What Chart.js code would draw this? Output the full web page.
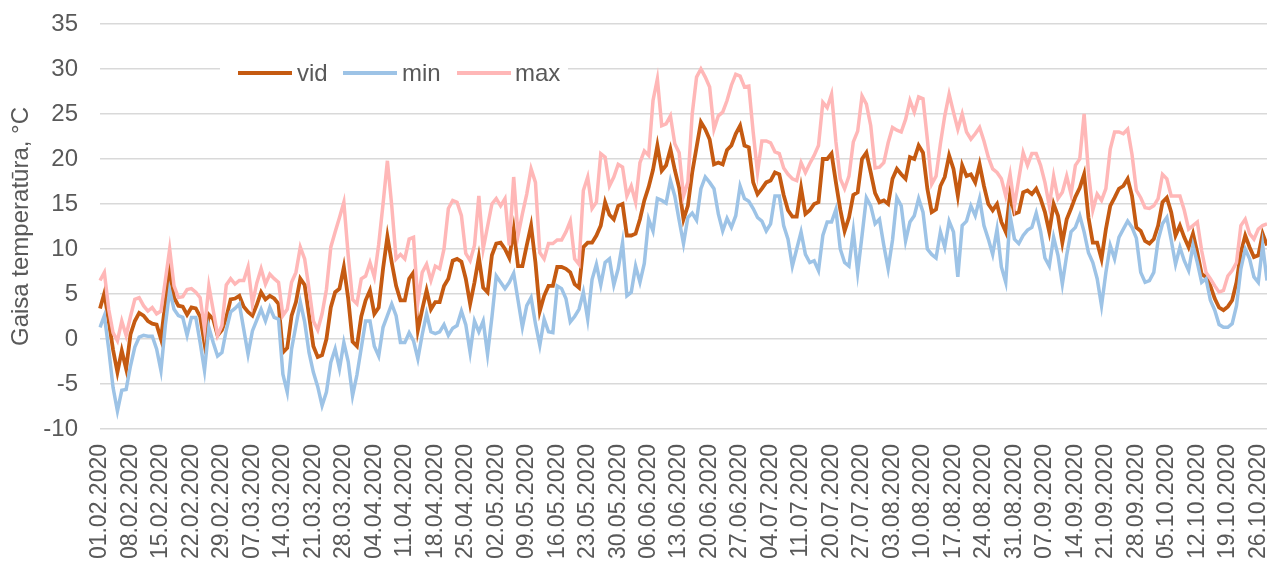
<!DOCTYPE html>
<html>
<head>
<meta charset="utf-8">
<script src="https://cdn.jsdelivr.net/npm/chart.js@4.4.1/dist/chart.umd.min.js"></script>
<style>
  html, body { margin: 0; padding: 0; background: #ffffff; }
  #chart-wrap { width: 1267px; height: 565px; position: relative; }
</style>
</head>
<body>
<div id="chart-wrap"><canvas id="temp-chart"></canvas></div>
<script>
// daily series, 01.02.2020 .. 28.10.2020 (18.07 and 19.07 are absent)
const startDate = '2020-02-01';
const missingDates = ['18.07.2020', '19.07.2020'];

const tickLabels = [
  '01.02.2020', '08.02.2020', '15.02.2020', '22.02.2020', '29.02.2020', '07.03.2020',
  '14.03.2020', '21.03.2020', '28.03.2020', '04.04.2020', '11.04.2020', '18.04.2020',
  '25.04.2020', '02.05.2020', '09.05.2020', '16.05.2020', '23.05.2020', '30.05.2020',
  '06.06.2020', '13.06.2020', '20.06.2020', '27.06.2020', '04.07.2020', '11.07.2020',
  '20.07.2020', '27.07.2020', '03.08.2020', '10.08.2020', '17.08.2020', '24.08.2020',
  '31.08.2020', '07.09.2020', '14.09.2020', '21.09.2020', '28.09.2020', '05.10.2020',
  '12.10.2020', '19.10.2020', '26.10.2020'
];

const vid = [
  3.4, 5.1, 2.0, -1.2, -3.7, -1.3, -3.3, 0.5, 2.0, 2.9,
  2.6, 2.0, 1.7, 1.6, 0.0, 4.0, 7.6, 4.6, 3.7, 3.6,
  2.7, 3.5, 3.4, 2.5, -0.5, 2.7, 2.2, 0.4, 1.0, 2.4,
  4.4, 4.5, 4.8, 3.6, 3.0, 2.6, 3.8, 5.2, 4.4, 4.8,
  4.5, 3.9, -1.5, -1.0, 2.6, 4.1, 6.7, 6.0, 2.6, -0.8,
  -2.0, -1.8, 0.0, 3.5, 5.2, 5.6, 8.0, 4.5, -0.3, -0.8,
  2.5, 4.3, 5.4, 2.8, 3.5, 7.8, 11.4, 8.5, 5.9, 4.3,
  4.3, 6.7, 7.4, 1.0, 3.3, 5.4, 3.3, 4.1, 4.1, 5.9,
  6.7, 8.7, 8.9, 8.6, 6.7, 3.9, 6.3, 9.1, 5.7, 5.2,
  9.3, 10.6, 10.7, 10.0, 9.0, 12.2, 8.1, 8.1, 10.4, 12.6,
  8.5, 3.1, 4.8, 5.9, 5.9, 8.0, 8.0, 7.8, 7.4, 6.1,
  5.7, 10.2, 10.7, 10.7, 11.5, 12.6, 15.2, 13.8, 13.3, 14.8,
  15.0, 11.5, 11.5, 11.7, 13.3, 15.4, 16.9, 18.8, 21.5, 18.7,
  19.3, 21.1, 18.8, 16.8, 13.3, 14.8, 18.5, 21.3, 24.1, 23.3,
  22.2, 19.4, 19.6, 19.4, 21.0, 21.5, 22.8, 23.7, 21.5, 21.3,
  17.4, 16.1, 16.7, 17.4, 17.6, 18.5, 18.3, 16.0, 14.3, 13.6,
  13.6, 16.8, 13.9, 14.3, 15.0, 15.2, 20.0, 20.0, 20.6, 17.4,
  14.4, 12.0, 13.5, 16.0, 16.3, 20.0, 20.7, 18.5, 16.2, 15.2,
  15.4, 15.0, 17.8, 18.9, 18.3, 17.8, 20.2, 20.0, 21.5, 20.7,
  16.7, 14.1, 14.4, 17.0, 18.0, 20.4, 18.9, 15.9, 19.3, 18.1,
  18.3, 17.4, 19.4, 17.0, 15.0, 14.3, 15.0, 13.0, 11.9, 16.1,
  13.9, 14.1, 16.3, 16.5, 16.1, 16.7, 15.6, 14.1, 11.9, 15.0,
  13.7, 10.7, 13.3, 14.5, 15.8, 16.8, 18.3, 13.5, 10.7, 10.7,
  8.9, 12.2, 14.8, 15.7, 16.7, 17.0, 17.8, 15.9, 12.4, 12.0,
  10.9, 10.6, 11.1, 12.6, 15.2, 15.7, 14.1, 11.5, 12.6, 11.3,
  10.2, 11.7, 9.6, 7.2, 6.9, 5.9, 4.5, 3.5, 3.2, 3.6,
  4.3, 6.3, 9.6, 11.5, 10.2, 9.1, 9.3, 11.7, 10.4
];

const minT = [
  1.3, 2.6, -1.1, -5.4, -8.0, -5.7, -5.6, -3.0, -0.9, 0.2,
  0.4, 0.3, 0.3, -1.1, -3.5, 1.5, 5.4, 3.3, 2.6, 2.4,
  0.4, 2.4, 2.4, -0.4, -3.5, 1.3, -0.4, -1.9, -1.5, 1.0,
  3.0, 3.4, 3.9, 1.1, -1.7, 0.9, 2.1, 3.3, 2.0, 3.5,
  2.4, 2.2, -3.9, -5.9, -1.1, 1.5, 4.1, 1.9, -1.5, -3.7,
  -5.3, -7.4, -5.9, -2.6, -1.1, -3.3, -0.4, -2.5, -6.3, -4.0,
  -1.0, 2.0, 2.0, -0.8, -1.9, 1.3, 2.6, 3.9, 2.6, -0.4,
  -0.4, 0.7, -0.2, -2.2, 0.5, 2.8, 0.8, 0.6, 0.8, 1.6,
  0.4, 1.2, 1.5, 3.1, 1.6, -1.5, 2.0, 0.8, 2.0, -1.7,
  2.4, 7.0, 6.3, 5.6, 6.3, 7.3, 4.3, 1.3, 3.7, 4.6,
  1.7, -0.7, 2.2, 0.8, 0.7, 5.9, 5.6, 4.5, 1.9, 2.5,
  3.3, 5.2, 2.2, 6.6, 8.3, 6.0, 8.5, 8.9, 6.0, 7.8,
  10.7, 4.8, 5.2, 8.1, 6.3, 8.4, 13.3, 12.0, 15.6, 15.4,
  15.1, 17.6, 15.9, 13.2, 10.6, 13.5, 14.0, 13.2, 16.7, 18.0,
  17.4, 16.7, 13.9, 12.0, 13.4, 12.4, 13.7, 17.0, 15.6, 15.3,
  14.5, 13.5, 13.1, 12.0, 12.8, 15.9, 15.9, 12.6, 11.1, 8.1,
  10.0, 11.9, 9.4, 8.5, 8.7, 7.6, 11.5, 13.0, 13.0, 14.4,
  10.0, 8.5, 8.1, 12.0, 7.4, 11.5, 15.7, 14.8, 12.8, 13.3,
  10.4, 7.8, 11.0, 15.7, 14.8, 10.9, 13.0, 13.7, 15.6, 14.1,
  10.0, 9.4, 9.0, 11.9, 10.2, 13.1, 11.9, 6.9, 12.6, 13.1,
  14.8, 13.7, 15.6, 12.6, 11.1, 9.4, 12.2, 8.0, 6.3, 13.7,
  11.1, 10.6, 11.5, 12.1, 12.4, 14.0, 12.0, 9.0, 8.1, 11.3,
  9.3, 6.1, 9.3, 11.9, 12.4, 13.7, 11.9, 9.6, 8.5, 6.7,
  3.7, 7.4, 10.4, 8.9, 11.3, 12.2, 13.1, 12.4, 11.2, 7.4,
  6.3, 6.5, 7.4, 11.0, 12.8, 13.5, 11.0, 8.3, 10.2, 8.7,
  7.6, 10.4, 8.5, 6.3, 6.7, 4.3, 3.2, 1.6, 1.3, 1.3,
  1.7, 3.7, 7.8, 10.0, 8.9, 6.9, 6.3, 10.4, 6.5
];

const maxT = [
  6.5, 7.4, 3.3, 0.7, -0.2, 2.0, 0.4, 2.5, 4.4, 4.6,
  3.7, 3.1, 3.5, 2.8, 3.1, 6.5, 10.0, 5.9, 4.6, 4.7,
  5.5, 5.6, 5.2, 4.6, 1.1, 5.9, 3.2, 0.4, 1.5, 6.0,
  6.7, 6.1, 6.5, 6.5, 8.0, 3.9, 6.2, 7.8, 6.1, 7.2,
  6.7, 6.3, 2.6, 3.3, 6.3, 7.4, 10.2, 8.9, 5.6, 2.0,
  1.0, 2.8, 5.5, 10.2, 11.9, 13.5, 15.2, 9.3, 4.4, 3.9,
  6.7, 7.0, 8.5, 6.9, 10.5, 15.0, 19.8, 14.8, 8.9, 9.4,
  8.9, 11.1, 11.3, 4.1, 7.4, 8.3, 6.5, 8.1, 7.8, 10.0,
  14.5, 15.4, 15.2, 13.7, 9.5, 8.7, 10.4, 15.9, 10.0, 12.5,
  15.0, 15.6, 14.8, 15.6, 10.4, 18.0, 11.5, 13.9, 16.1, 18.9,
  17.4, 9.6, 8.9, 10.6, 10.6, 11.0, 11.0, 11.9, 13.1, 8.9,
  8.3, 16.5, 18.0, 14.5, 15.2, 20.6, 20.2, 17.0, 18.0, 19.4,
  19.1, 15.9, 17.0, 15.2, 19.6, 20.9, 20.4, 26.5, 28.9, 23.7,
  23.9, 24.8, 21.7, 20.7, 15.9, 17.4, 25.0, 29.1, 30.0, 29.1,
  28.0, 23.3, 24.8, 25.2, 26.5, 28.2, 29.4, 29.2, 28.0, 28.1,
  23.0, 18.5, 22.0, 22.0, 21.8, 20.8, 20.6, 19.0, 18.3, 17.8,
  17.6, 19.6, 18.5, 19.5, 20.4, 21.5, 26.3, 25.7, 27.2, 21.9,
  17.8, 16.7, 18.1, 21.9, 23.1, 27.0, 26.1, 23.7, 19.0, 19.1,
  19.6, 21.8, 23.5, 23.2, 23.0, 24.4, 26.5, 25.2, 26.9, 26.7,
  22.2, 17.2, 18.1, 21.7, 24.8, 27.2, 25.2, 23.3, 25.0, 23.0,
  22.2, 22.8, 23.5, 22.0, 20.2, 18.9, 18.5, 17.8, 15.9, 18.3,
  14.8, 17.8, 20.7, 19.3, 20.6, 20.6, 19.3, 17.4, 14.8, 18.1,
  15.6, 16.3, 18.1, 16.1, 19.3, 20.0, 25.0, 18.5, 14.3, 16.1,
  15.4, 16.7, 21.1, 23.0, 23.0, 22.8, 23.3, 20.5, 16.5, 15.7,
  14.6, 14.5, 14.8, 15.6, 18.3, 17.8, 15.9, 15.9, 15.9, 14.3,
  12.2, 12.6, 13.0, 9.8, 7.4, 6.7, 5.9, 5.2, 5.4, 7.0,
  7.6, 8.5, 12.6, 13.3, 11.7, 11.1, 12.2, 12.6, 12.8
];

const seriesNames = ['vid', 'min', 'max'];
const seriesColors = ['#c55a11', '#9dc3e6', '#ffb7b7'];

function buildCategories(count) {
  const out = [];
  const d = new Date(startDate + 'T12:00:00');
  while (out.length < count) {
    const label = String(d.getDate()).padStart(2, '0') + '.' +
      String(d.getMonth() + 1).padStart(2, '0') + '.' + d.getFullYear();
    if (!missingDates.includes(label)) {
      out.push(label);
    }
    d.setDate(d.getDate() + 1);
  }
  return out;
}

const FONT = '"Liberation Sans", Arial, sans-serif';
const TEXT_COLOR = '#595959';

// legend sits inside the plot, on a white box over the 30 gridline
const insideLegend = {
  id: 'insideLegend',
  afterDatasetsDraw(chart) {
    const {ctx} = chart;
    ctx.save();
    ctx.fillStyle = '#ffffff';
    ctx.fillRect(220, 58, 348, 30);
    ctx.font = '24px ' + FONT;
    ctx.textBaseline = 'middle';
    ctx.textAlign = 'left';
    const items = [
      {line: 238, text: 297},
      {line: 343, text: 402},
      {line: 457, text: 515}
    ];
    items.forEach((item, i) => {
      ctx.strokeStyle = seriesColors[i];
      ctx.lineWidth = 4;
      ctx.beginPath();
      ctx.moveTo(item.line, 73);
      ctx.lineTo(item.line + 54, 73);
      ctx.stroke();
      ctx.fillStyle = TEXT_COLOR;
      ctx.fillText(seriesNames[i], item.text, 74);
    });
    ctx.restore();
  }
};

const categories = buildCategories(vid.length);
const seriesData = [vid, minT, maxT];

const datasets = seriesData.map((data, i) => ({
  label: seriesNames[i],
  data: data,
  borderColor: seriesColors[i],
  backgroundColor: seriesColors[i],
  borderWidth: i === 0 ? 3.8 : 3.5,
  pointRadius: 0,
  tension: 0,
  order: 2 - i
}));

new Chart(document.getElementById('temp-chart'), {
  type: 'line',
  data: {
    labels: categories,
    datasets: datasets
  },
  options: {
    responsive: true,
    maintainAspectRatio: false,
    animation: false,
    layout: {
      padding: {top: 24, right: 0, bottom: 0, left: 0}
    },
    plugins: {
      legend: {display: false},
      tooltip: {enabled: false}
    },
    scales: {
      x: {
        offset: false,
        grid: {display: false, drawTicks: false},
        border: {display: false},
        ticks: {
          autoSkip: false,
          maxRotation: 90,
          minRotation: 90,
          padding: 15,
          color: TEXT_COLOR,
          font: {family: FONT, size: 23},
          callback(value, index) {
            return index % 7 === 0 ? tickLabels[index / 7] : '';
          }
        },
        afterFit(scale) {
          scale.height = 136;
          scale.paddingLeft = 0;
          scale.paddingRight = 0;
        }
      },
      y: {
        min: -10,
        max: 35,
        grid: {color: '#d9d9d9', lineWidth: 1.5, drawTicks: false},
        border: {display: false},
        ticks: {
          stepSize: 5,
          padding: 22,
          color: TEXT_COLOR,
          font: {family: FONT, size: 24}
        },
        title: {
          display: true,
          text: 'Gaisa temperatūra, °C',
          color: TEXT_COLOR,
          font: {family: FONT, size: 24},
          padding: {top: 7, bottom: 0}
        },
        afterFit(scale) {
          scale.width = 100;
          scale.paddingTop = 0;
          scale.paddingBottom = 0;
        }
      }
    }
  },
  plugins: [insideLegend]
});
</script>
</body>
</html>
